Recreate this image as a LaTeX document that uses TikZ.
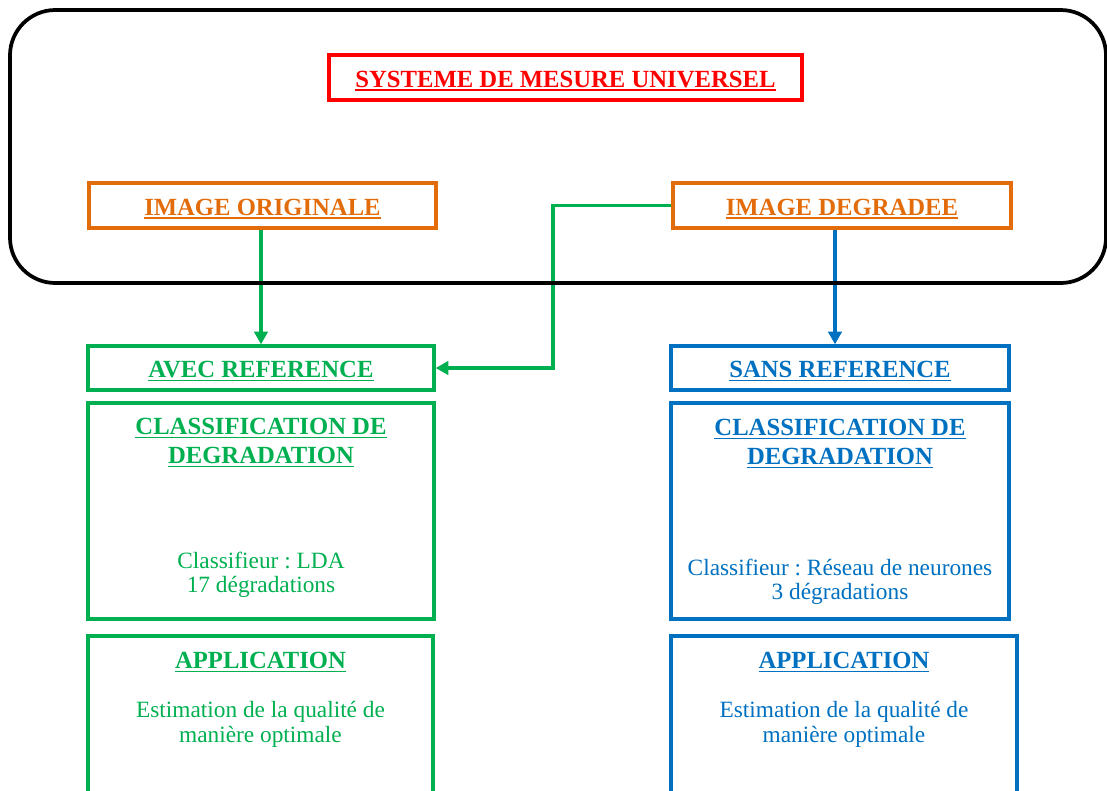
\documentclass[tikz,border=0pt]{standalone}
\usepackage{fontspec}
\setmainfont{Liberation Serif}
\usepackage{xcolor}
\usetikzlibrary{arrows.meta,positioning,calc}
\definecolor{msred}{RGB}{255,0,0}
\definecolor{msorange}{RGB}{227,108,10}
\definecolor{msgreen}{RGB}{0,176,80}
\definecolor{msblue}{RGB}{0,112,192}
\frenchspacing
\newcommand{\msul}[1]{\setbox0\hbox{#1}\rlap{\rule[-2.5pt]{\wd0}{1pt}}\box0}
\tikzset{
  msframe/.style={draw=black, line width=2.8pt, rounded corners=34pt},
  msbox/.style={
    rectangle, draw, line width=2.5pt, inner sep=0pt,
    minimum height=33.75pt
  },
  mshead/.style={font=\fontsize{18.5}{21.75}\selectfont\bfseries, align=center, inner sep=0pt},
  msbar/.style={msbox,mshead,text height=14.7pt,text depth=0pt},
  mstext/.style={font=\fontsize{17.5}{18.5}\selectfont, align=center, inner sep=0pt},
  msedge/.style={-{Triangle[length=9.5pt,width=10pt]}, line width=2.3pt}
}

\begin{document}
\begin{tikzpicture}[x=0.75pt,y=-0.75pt]
  \useasboundingbox (0,0) rectangle (1107,790);
  \clip (0,0) rectangle (1107,790);
  % system and input images
  \node[msbar,draw=msred,text=msred,minimum width=354.75pt] (sys) at (565.5,77.5) {\msul{SYSTEME DE MESURE UNIVERSEL}};
  \node[msbar,draw=msorange,text=msorange,minimum width=260.25pt] (orig) at (262.5,205.5) {\msul{IMAGE ORIGINALE}};
  \node[msbar,draw=msorange,text=msorange,minimum width=253.5pt] (deg) at (842,205.5) {\msul{IMAGE DEGRADEE}};
  % with reference
  \node[msbar,draw=msgreen,text=msgreen,minimum width=259.5pt,minimum height=33pt] (avec) at (261,368) {\msul{AVEC REFERENCE}};
  \node[msbox,draw=msgreen,minimum width=259.5pt,minimum height=162pt] (clsA) at (261,511) {};
  \node[mshead,text=msgreen,anchor=north] (clsAhead) at (261,418) {\msul{CLASSIFICATION DE}\\\msul{DEGRADATION}};
  \node[mstext,text=msgreen,anchor=north] (clsAtext) at (261,551.5) {Classifieur : LDA\\17 dégradations};
  \node[msbox,draw=msgreen,minimum width=258.75pt,minimum height=198pt] (appA) at (260.5,768) {};
  \node[mshead,text=msgreen,anchor=north] (appAhead) at (260.5,652) {\msul{APPLICATION}};
  \node[mstext,text=msgreen,anchor=north] (appAtext) at (260.5,701) {Estimation de la qualité de\\manière optimale};
  % without reference
  \node[msbar,draw=msblue,text=msblue,minimum width=253.5pt,minimum height=33pt] (sans) at (840,368) {\msul{SANS REFERENCE}};
  \node[msbox,draw=msblue,minimum width=253.5pt,minimum height=162pt] (clsS) at (840,511) {};
  \node[mshead,text=msblue,anchor=north] (clsShead) at (840,419) {\msul{CLASSIFICATION DE}\\\msul{DEGRADATION}};
  \node[mstext,text=msblue,anchor=north] (clsStext) at (840,558.5) {Classifieur : Réseau de neurones\\3 dégradations};
  \node[msbox,draw=msblue,minimum width=259.5pt,minimum height=198pt] (appS) at (844,768) {};
  \node[mshead,text=msblue,anchor=north] (appShead) at (844,652) {\msul{APPLICATION}};
  \node[mstext,text=msblue,anchor=north] (appStext) at (844,701) {Estimation de la qualité de\\manière optimale};
  % connectors
  \coordinate (bend) at (553,0);
  \draw[msedge,color=msgreen] (avec.north |- orig.south) -- (avec.north);
  \draw[msedge,color=msgreen] (deg.west) -| (bend |- avec.east) -- (avec.east);
  \draw[msedge,color=msblue] ([xshift=-3.75pt]sans.north |- deg.south) -- ([xshift=-3.75pt]sans.north);
  % outer frame
  \draw[msframe] (10,10) rectangle (1106,283);
\end{tikzpicture}
\end{document}
